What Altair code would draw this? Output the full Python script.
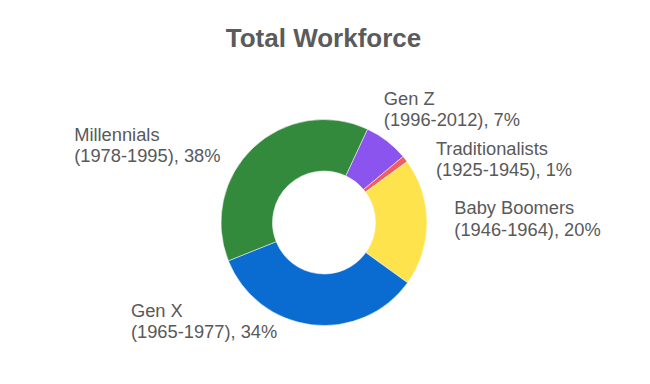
import math
import altair as alt
import pandas as pd

# Data
names = ["Gen Z", "Traditionalists", "Baby Boomers", "Gen X", "Millennials"]
years = ["(1996-2012)", "(1925-1945)", "(1946-1964)", "(1965-1977)", "(1978-1995)"]
shares = [7, 1, 20, 34, 38]
colors = ["#8c54ee", "#f25c5c", "#ffe34c", "#0a6bd0", "#338a3d"]

df = pd.DataFrame({
    "name": names,
    "years": years,
    "share": shares,
    "order": list(range(len(names))),
})
df["label"] = df["name"] + "\n" + df["years"] + ", " + df["share"].astype(str) + "%"

start = 0.436
theta_scale = alt.Scale(domain=[0, 100], range=[start, start + 2 * math.pi])
CX, CY = 316, 154.5

base = alt.Chart(df).encode(
    theta=alt.Theta("share:Q", stack=True, scale=theta_scale),
    order=alt.Order("order:Q"),
)

donut = base.mark_arc(innerRadius=51.5, outerRadius=103, stroke="white", strokeWidth=0.5).encode(
    x=alt.value(CX),
    y=alt.value(CY),
    color=alt.Color("name:N", scale=alt.Scale(domain=names, range=colors), legend=None),
)

offsets = {
    "Gen Z": (-16.4, -18.6),
    "Traditionalists": (13.4, 9.2),
    "Baby Boomers": (5.3, -7.6),
    "Gen X": (-177.9, -30),
    "Millennials": (-163.9, 9.1),
}

layers = [donut]
for nm in names:
    dx, dy = offsets[nm]
    t = base.transform_calculate(
        txt=f"datum.name == '{nm}' ? datum.label : ''"
    ).mark_text(
        align="left", baseline="alphabetic", lineBreak="\n", lineHeight=21.5,
        font="Liberation Sans", fontSize=18.3, color="#595959", dx=dx, dy=dy,
    ).encode(
        x=alt.value(CX),
        y=alt.value(CY),
        radius=alt.value(125),
        text="txt:N",
    )
    layers.append(t)

chart = alt.layer(*layers).properties(
    width=634,
    height=300,
    padding={"left": 0, "top": 60, "right": 0, "bottom": 0},
    autosize="none",
    title=alt.TitleParams(
        "Total Workforce", anchor="middle", font="Liberation Sans", fontSize=26,
        fontWeight="bold", color="#5b5b5b", offset=16, dx=-1.5,
    ),
).configure_view(stroke=None)

chart.save("out.html", embed_options={"renderer": "svg", "actions": False})
